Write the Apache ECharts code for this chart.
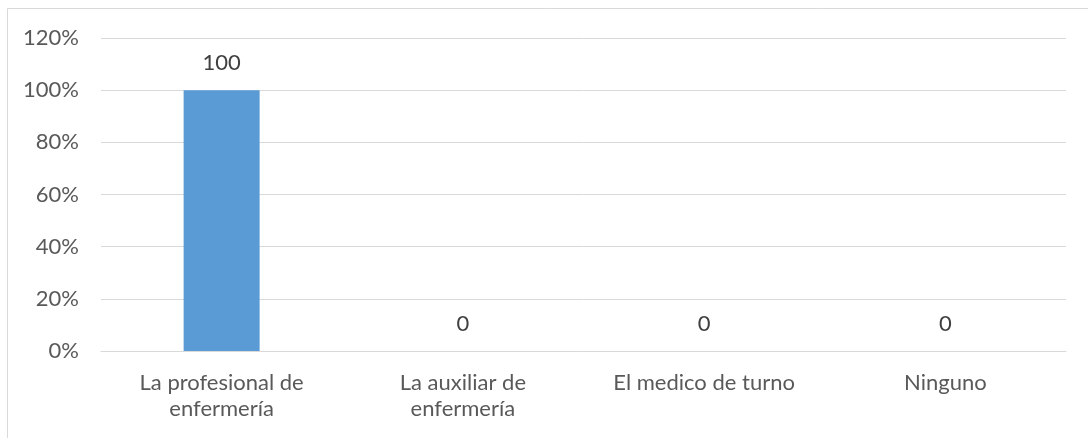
<!DOCTYPE html>
<html>
<head>
<meta charset="utf-8">
<script src="https://cdn.jsdelivr.net/npm/echarts@6/dist/echarts.min.js"></script>
<style>
html,body{margin:0;padding:0;background:#fff;}
#main{width:1088px;height:438px;}
</style>
</head>
<body>
<div id="main"></div>
<script>
var categories = ['La profesional de\nenfermería', 'La auxiliar de\nenfermería', 'El medico de turno', 'Ninguno'];
var values = [100, 0, 0, 0];
var yTicks = [0, 20, 40, 60, 80, 100, 120];

var chart = echarts.init(document.getElementById('main'), null, {renderer: 'canvas'});
chart.setOption({
  animation: false,
  backgroundColor: '#fff',
  textStyle: {fontFamily: 'Lato, "Open Sans", sans-serif'},
  graphic: [{
    type: 'rect',
    shape: {x: 7.5, y: 8.5, width: 1100, height: 440},
    style: {fill: 'none', stroke: '#D9D9D9', lineWidth: 1},
    silent: true
  }],
  grid: {left: 101, right: 22, top: 38, bottom: 87},
  xAxis: {
    type: 'category',
    data: categories,
    axisLine: {show: true, lineStyle: {color: '#D9D9D9', width: 1}},
    axisTick: {show: false},
    axisLabel: {color: '#595959', fontSize: 22, margin: 19, lineHeight: 26, interval: 0}
  },
  yAxis: {
    type: 'value',
    min: yTicks[0],
    max: yTicks[yTicks.length - 1],
    interval: 20,
    axisLine: {show: false},
    axisTick: {show: false},
    splitLine: {lineStyle: {color: '#D9D9D9', width: 1}},
    axisLabel: {color: '#595959', fontSize: 22, margin: 22, formatter: '{value}%'}
  },
  series: [{
    type: 'bar',
    data: values,
    barWidth: '31.5%',
    itemStyle: {color: '#5B9BD5'},
    label: {show: true, position: 'top', distance: 16, color: '#404040', fontSize: 22}
  }]
});
</script>
</body>
</html>
